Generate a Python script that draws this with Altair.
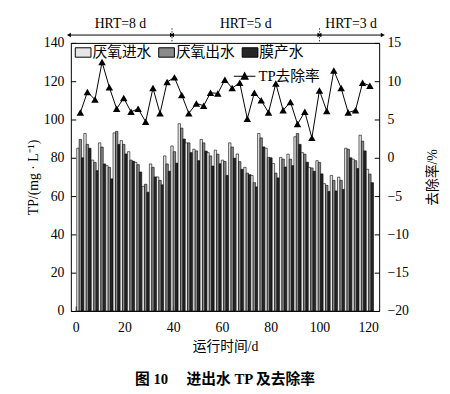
import altair as alt
import pandas as pd

FONT = "Liberation Serif, Noto Sans CJK SC"

# ---- data ----
days = [1.9, 4.8, 7.9, 10.8, 13.8, 16.8, 19.7, 22.7, 25.6, 28.7, 31.7, 34.6, 37.5, 40.5,
        43.5, 46.4, 49.5, 52.5, 55.3, 58.3, 61.2, 64.2, 67.3, 70.4, 73.3, 76.1, 79.1, 82.1,
        85.1, 88.1, 91.0, 94.0, 96.9, 100.0, 103.0, 105.9, 108.9, 111.8, 114.8, 117.7, 120.7]
removal = [5.9, 8.6, 7.6, 12.5, 9.2, 6.4, 7.8, 6.0, 6.4, 4.7, 9.1, 5.8, 9.9, 10.5,
           8.2, 5.8, 7.1, 6.8, 8.5, 8.4, 10.2, 9.1, 9.8, 5.1, 8.5, 7.5, 5.9, 9.7,
           6.2, 7.3, 4.4, 6.0, 2.6, 8.8, 6.1, 11.4, 9.1, 5.9, 6.2, 9.8, 9.4]
inflow = [85, 92.7, 78.8, 87.8, 75.9, 93, 89, 83.2, 77.6, 65.1, 76.8, 70, 81, 86.2,
          97.8, 87.8, 84.5, 89.6, 82.7, 84, 78.8, 87.8, 82, 75, 70.8, 92.7, 85, 77,
          80.2, 81.9, 91, 82.7, 75, 78.5, 66.5, 70.8, 69.9, 85, 79.3, 91.8, 74]
outflow = [89.6, 87, 77.6, 85.6, 75, 93.8, 87, 78.8, 76.4, 66.2, 75, 68.2, 76.8, 83.2,
           95.5, 87.8, 83.6, 87.8, 81, 81.9, 78.1, 85.6, 78, 72, 67, 90.4, 80.2, 72,
           79.3, 79.3, 92.7, 81.9, 74.7, 77.6, 65.6, 68.2, 68.2, 84.5, 78.5, 88.7, 71.5]
membrane = [80, 85, 73.3, 76.8, 69, 87, 82, 78.2, 72.6, 62, 70, 65.9, 73, 77.2,
            89.8, 82.7, 78.5, 83.5, 75.7, 76.9, 70.8, 79.8, 74, 71.2, 64.8, 85.7, 80, 69.5,
            75.2, 75.9, 87, 77.7, 73, 71.6, 62.4, 62.7, 63.5, 80, 74.4, 83.6, 67]
series_names = ["厌氧进水", "厌氧出水", "膜产水"]
series_colors = ["#e6e6e6", "#8a8a8a", "#262626"]
line_name = "TP去除率"

hrt_labels = ["HRT=8 d", "HRT=5 d", "HRT=3 d"]
hrt_start = [-2.8, 39.5, 100]
hrt_end = [39.5, 100, 126]
hrt_bounds = [39.5, 100]

x_ticks = [0, 20, 40, 60, 80, 100, 120]
y_ticks = [0, 20, 40, 60, 80, 100, 120, 140]
r_ticks = [-20, -15, -10, -5, 0, 5, 10, 15]

# ---- tables ----
rows = []
for i, d in enumerate(days):
    for k, arr in enumerate([inflow, outflow, membrane]):
        rows.append({"day": d, "k": k, "series": series_names[k], "value": arr[i]})
bar_df = pd.DataFrame(rows)
line_df = pd.DataFrame({"day": days, "rate": removal, "name": [line_name] * len(days)})
hrt_df = pd.DataFrame({"label": hrt_labels, "start": hrt_start, "end": hrt_end})
bound_df = pd.DataFrame({"b": hrt_bounds})

xscale = alt.Scale(domain=[-2, 124.5], nice=False, zero=False)
x_axis = alt.Axis(values=x_ticks, title="运行时间/d", tickSize=5, offset=-5, domain=False,
                  labelPadding=10, titlePadding=5, labelFontSize=14, titleFontSize=14,
                  grid=False, tickColor="black", labelColor="black", titleColor="black",
                  titleFontWeight="normal")

bars = alt.Chart(bar_df).transform_calculate(
    x0="datum.day - 1.485 + datum.k * 0.99",
    x1="datum.day - 0.495 + datum.k * 0.99",
).mark_bar(stroke="black", strokeWidth=0.6).encode(
    x=alt.X("x0:Q", scale=xscale, axis=x_axis),
    x2="x1:Q",
    y=alt.Y("value:Q", scale=alt.Scale(domain=[0, 140], nice=False),
            axis=alt.Axis(values=y_ticks, title="TP/(mg · L⁻¹)", tickSize=5, offset=-5,
                          domain=False, labelPadding=7, titlePadding=3, labelFontSize=14,
                          titleFontSize=14, grid=False, tickColor="black",
                          labelColor="black", titleColor="black", titleFontWeight="normal")),
    y2=alt.datum(0),
    color=alt.Color("series:N",
                    scale=alt.Scale(domain=series_names, range=series_colors),
                    legend=alt.Legend(orient="none", legendX=4, legendY=1, title=None,
                                      direction="horizontal",
                                      symbolType="M-1,-0.6H1V0.6H-1Z", symbolSize=256,
                                      symbolStrokeColor="black", symbolStrokeWidth=1,
                                      labelFontSize=15, labelOffset=1, columnPadding=4,
                                      padding=0, labelColor="black")),
)

rate_y = alt.Y("rate:Q", scale=alt.Scale(domain=[-20, 15], nice=False),
               axis=alt.Axis(orient="right", values=r_ticks, title="去除率/%", tickSize=5,
                             offset=-5, domain=False, labelPadding=8, titlePadding=32,
                             labelFontSize=14, titleFontSize=14, grid=False, titleAngle=270,
                             tickColor="black", labelColor="black", titleColor="black",
                             titleFontWeight="normal"))
line = alt.Chart(line_df).mark_line(color="black", strokeWidth=1).encode(
    x=alt.X("day:Q", scale=xscale, axis=x_axis), y=rate_y)
points = alt.Chart(line_df).mark_point(shape="triangle-up", filled=True, size=58,
                                       opacity=1).encode(
    x=alt.X("day:Q", scale=xscale, axis=x_axis), y=rate_y,
    fill=alt.Fill("name:N", scale=alt.Scale(domain=[line_name], range=["black"]),
                  legend=alt.Legend(orient="none", legendX=166, legendY=23, title=None,
                                    symbolType="M-1,-0.045H1V0.045H-1ZM0,-0.45L0.4,0.32L-0.4,0.32Z",
                                    symbolSize=484, symbolFillColor="black",
                                    symbolStrokeWidth=0, labelFontSize=15, labelOffset=3,
                                    padding=0, labelColor="black")),
)
rate_layer = alt.layer(line, points)

hrt_rule = alt.Chart(hrt_df).mark_rule(color="black", strokeWidth=1).encode(
    x=alt.X("start:Q", scale=xscale, axis=x_axis), x2="end:Q", y=alt.value(-8))
hrt_left = alt.Chart(hrt_df).mark_point(shape="triangle-left", filled=True, size=22,
                                        color="black", opacity=1).encode(
    x=alt.X("start:Q", scale=xscale, axis=x_axis), y=alt.value(-8))
hrt_right = alt.Chart(hrt_df).mark_point(shape="triangle-right", filled=True, size=22,
                                         color="black", opacity=1).encode(
    x=alt.X("end:Q", scale=xscale, axis=x_axis), y=alt.value(-8))
hrt_text = alt.Chart(hrt_df).transform_calculate(
    mid="(datum.start + datum.end) / 2"
).mark_text(fontSize=14, color="black", baseline="middle").encode(
    x=alt.X("mid:Q", scale=xscale, axis=x_axis), y=alt.value(-19), text="label:N")
bounds = alt.Chart(bound_df).mark_rule(color="black", strokeWidth=0.8,
                                       strokeDash=[1.5, 1.5]).encode(
    x=alt.X("b:Q", scale=xscale, axis=x_axis), y=alt.value(-15), y2=alt.value(0))

chart = alt.layer(bars, rate_layer, hrt_rule, hrt_left, hrt_right, hrt_text, bounds).resolve_scale(
    y="independent", fill="independent", color="independent"
).properties(
    width=314, height=273,
    autosize=alt.AutoSizeParams(type="none"),
    padding={"left": 64, "top": 32, "right": 64, "bottom": 81},
    title=alt.TitleParams("图 10\u2003 进出水 TP 及去除率", orient="bottom", fontSize=15,
                          fontWeight="bold", offset=19, color="black", font=FONT),
).configure(font=FONT).configure_view(stroke="black", strokeWidth=1)

chart.save("out.html", embed_options={"renderer": "svg", "actions": False})
